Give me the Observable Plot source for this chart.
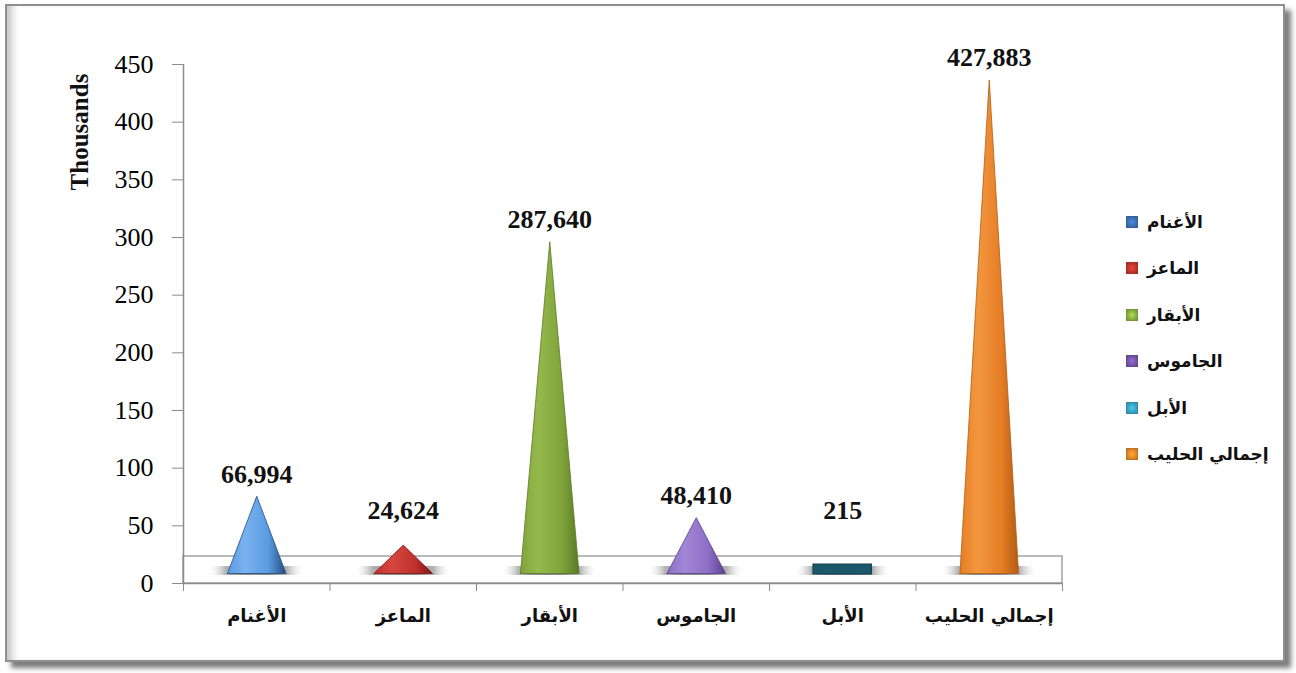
<!DOCTYPE html>
<html>
<head>
<meta charset="utf-8">
<script src="https://cdn.jsdelivr.net/npm/d3@7"></script>
<script src="https://cdn.jsdelivr.net/npm/@observablehq/plot@0.6"></script>
<style>
  html, body { margin: 0; padding: 0; background: #fff; }
  #wrap { position: relative; width: 1296px; height: 673px; overflow: hidden; background: #fff; }
  #frame {
    position: absolute; left: 5px; top: 4px; width: 1276px; height: 654px;
    border: 2px solid #8f8f8f;
    box-shadow: 6px 6px 5px rgba(90,90,90,0.8), inset 10px 0 10px -6px rgba(170,170,170,0.8);
    pointer-events: none;
  }
  #chart { position: absolute; left: 0; top: 0; }
  #ylabel {
    position: absolute; left: 80px; top: 132px;
    transform: translate(-50%, -50%) rotate(-90deg);
    font: bold 25px "Liberation Serif", "Times New Roman", serif; color: #111; white-space: nowrap;
  }
  #legend { position: absolute; left: 1126px; top: 0; }
  .item { position: absolute; left: 0; display: flex; align-items: center; white-space: nowrap; transform: translateY(-50%); }
  .sw { width: 12px; height: 12px; margin-right: 9px; box-sizing: border-box; }
  .lt { font: bold 17px "DejaVu Sans", sans-serif; color: #111; }
</style>
</head>
<body>
<div id="wrap">
  <div id="chart"></div>
  <div id="ylabel">Thousands</div>
  <div id="legend"></div>
  <div id="frame"></div>
</div>
<script>
// ---- data ----
const categories = ["الأغنام", "الماعز", "الأبقار", "الجاموس", "الأبل", "إجمالي الحليب"];
const values = [66994, 24624, 287640, 48410, 215, 427883];
const yTicks = [0, 50, 100, 150, 200, 250, 300, 350, 400, 450];
const baseColors = ["#5b9be0", "#c0322c", "#80a43b", "#8d6fc6", "#1b5869", "#e67e26"];
const lightColors = ["#78b2f0", "#d4463e", "#95b94c", "#a286d6", "#2a7287", "#f3973f"];
const darkColors = ["#234a80", "#7e1714", "#5c7a26", "#5b3f91", "#113f4c", "#b35c12"];
const legendColors = ["#3f73b8", "#c0392f", "#8db443", "#7a58ad", "#3aa6c6", "#e58a2a"];

const rows = categories.map((c, i) => ({i, c, v: values[i] / 1000, label: d3.format(",")(values[i])}));
const halfW = 0.2;
const tiny = rows.filter(r => r.v < 1);
const big = rows.filter(r => r.v >= 1);
const coneDy = -10;

// gradients as a function mark
function defsMark() {
  const ns = "http://www.w3.org/2000/svg";
  const defs = document.createElementNS(ns, "defs");
  const addGrad = (id, stops) => {
    const g = document.createElementNS(ns, "linearGradient");
    g.setAttribute("id", id);
    g.setAttribute("x1", "0"); g.setAttribute("x2", "1");
    g.setAttribute("y1", "0"); g.setAttribute("y2", "0");
    stops.forEach(([o, c, a]) => {
      const s = document.createElementNS(ns, "stop");
      s.setAttribute("offset", o);
      s.setAttribute("stop-color", c);
      s.setAttribute("stop-opacity", a == null ? 1 : a);
      g.appendChild(s);
    });
    defs.appendChild(g);
  };
  rows.forEach(r => addGrad("cone" + r.i, [
    ["0%", baseColors[r.i]], ["30%", lightColors[r.i]], ["70%", baseColors[r.i]], ["100%", darkColors[r.i]]
  ]));
  addGrad("shadowGrad", [["0%", "#ffffff", 0], ["18%", "#b5b5b5"], ["35%", "#8a8a8a"], ["65%", "#8a8a8a"], ["82%", "#b5b5b5"], ["100%", "#ffffff", 0]]);
  return defs;
}

const axisColor = "#8c8c8c";
const marks = [
  defsMark,
  // 3D floor
  Plot.rect([0], {x1: -0.5, x2: 5.5, y1: 0, y2: 0, insetTop: -27, fill: "none", stroke: "#a3a3a3", strokeWidth: 1.5}),
  // shadows under cones
  Plot.rect(rows, {x1: d => d.i - 0.33, x2: d => d.i + 0.33, y1: 0, y2: 0, insetTop: -9, dy: -8, fill: "url(#shadowGrad)"}),
  // y axis line
  Plot.ruleX([-0.5], {y1: 0, y2: 450, stroke: axisColor, strokeWidth: 1.5}),
  Plot.axisY({ticks: yTicks, tickSize: 11, tickPadding: 19, stroke: axisColor, fill: "#000",
    fontSize: 26, fontFamily: "Liberation Serif, Times New Roman, serif", label: null, tickFormat: d3.format("d")}),
  Plot.axisX({ticks: d3.range(-0.5, 6, 1), tickSize: 8, tickFormat: () => "", stroke: axisColor, label: null}),
  Plot.axisX({ticks: d3.range(0, 6), tickSize: 0, tickPadding: 26, tickFormat: i => categories[i],
    fontSize: 18, fontWeight: "bold", fontFamily: "DejaVu Sans, sans-serif", fill: "#111", label: null}),
  Plot.ruleY([0], {x1: -0.5, x2: 5.5, stroke: axisColor, strokeWidth: 1.5}),
  // tiny values: visible base disk
  Plot.rect(tiny, {x1: d => d.i - halfW, x2: d => d.i + halfW, y1: 0, y2: 0, insetTop: -10, dy: -9,
    fill: d => baseColors[d.i], stroke: d => darkColors[d.i], strokeWidth: 1}),
  // cones (triangles: base corners at 0, apex at value)
  ...big.map(r => Plot.line([
      {x: r.i - halfW, y: 0}, {x: r.i, y: r.v}, {x: r.i + halfW, y: 0}, {x: r.i - halfW, y: 0}
    ], {
    x: "x", y: "y", dy: coneDy, fill: `url(#cone${r.i})`, stroke: darkColors[r.i], strokeWidth: 0.8
  })),
  // value labels
  Plot.text(rows, {x: "i", y: d => Math.max(d.v, 35), text: "label", dy: -32,
    fontSize: 26, fontWeight: "bold", fontFamily: "Liberation Serif, Times New Roman, serif", fill: "#111",
    lineAnchor: "middle"})
];

const plot = Plot.plot({
  width: 1100, height: 673,
  marginLeft: 183, marginRight: 38, marginTop: 64, marginBottom: 90,
  x: {type: "linear", domain: [-0.5, 5.5]},
  y: {domain: [0, 450]},
  style: {background: "transparent", overflow: "visible"},
  marks
});
document.getElementById("chart").appendChild(plot);

// legend
const legend = document.getElementById("legend");
const legendTop = 222, legendStep = 46.4;
categories.forEach((c, i) => {
  const item = document.createElement("div");
  item.className = "item";
  item.style.top = (legendTop + i * legendStep) + "px";
  const sw = document.createElement("div");
  sw.className = "sw";
  sw.style.background = `radial-gradient(circle at 50% 50%, ${d3.color(legendColors[i]).brighter(0.6)} 0%, ${legendColors[i]} 55%, ${d3.color(legendColors[i]).darker(0.6)} 100%)`;
  sw.style.border = `1px solid ${d3.color(legendColors[i]).darker(0.5)}`;
  const t = document.createElement("span");
  t.className = "lt";
  t.dir = "rtl";
  t.textContent = c;
  item.appendChild(sw);
  item.appendChild(t);
  legend.appendChild(item);
});
</script>
</body>
</html>
